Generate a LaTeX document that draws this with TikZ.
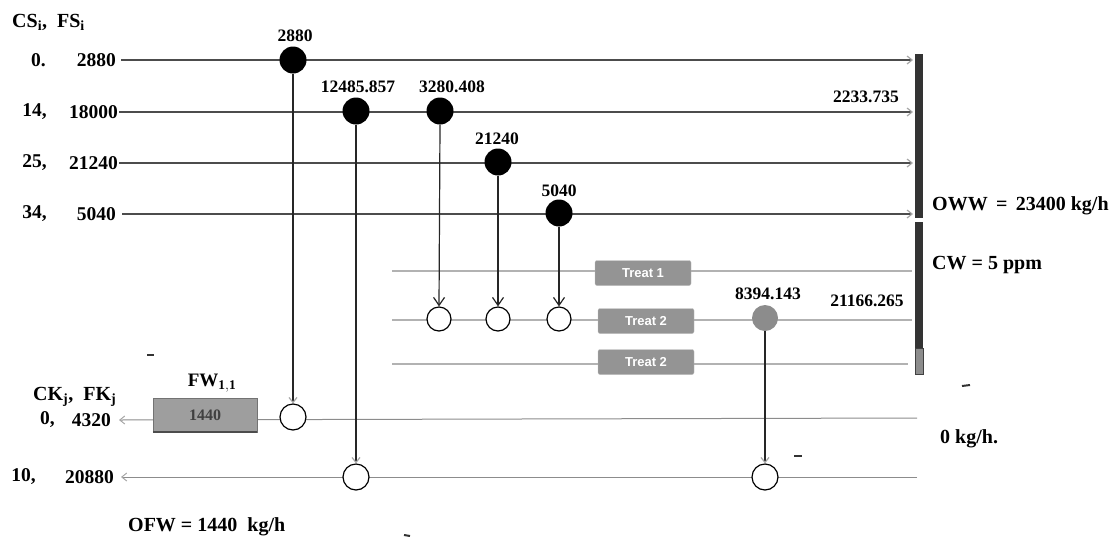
\documentclass[tikz,border=0pt]{standalone}
\usepackage{fontspec}
\setmainfont{Liberation Serif}
\newfontfamily\tsans{Liberation Sans}
\usetikzlibrary{arrows.meta}
\begin{document}
\begin{tikzpicture}[x=1pt,y=-1pt,
  lbl/.style={font=\bfseries\fontsize{19.5}{21}\selectfont, inner sep=0pt},
  toplbl/.style={font=\bfseries\fontsize{17.5}{19}\selectfont, inner sep=0pt},
  biglbl/.style={font=\bfseries\fontsize{20}{22}\selectfont, inner sep=0pt},
  srcline/.style={draw=black!70, line width=1.2pt},
  sinkline/.style={draw=black!45, line width=1pt},
  trline/.style={draw=black!30, line width=1.3pt},
  vert/.style={draw=black!85, line width=1.2pt},
  dot/.style={circle, fill=black, minimum size=27pt, inner sep=0pt},
  gdot/.style={circle, fill=black!45, minimum size=26pt, inner sep=0pt},
  opn/.style={circle, draw=black, line width=1.2pt, fill=white, minimum size=24pt, inner sep=0pt},
  treatbox/.style={rounded corners=2pt, fill=black!42, draw=black!25, minimum width=96pt, minimum height=25pt, inner sep=0pt, font=\tsans\bfseries\fontsize{13}{14}\selectfont, text=white},
  darr/.style={-{Straight Barb[length=8pt,width=11pt,line width=1.2pt]}},
  larr/.style={-{Straight Barb[length=5pt,width=8pt,color=black!35]}},
  artifact/.style={draw=black!80, line width=2pt}
]
\useasboundingbox (0,0) rectangle (1116,539);

% header labels
\node[biglbl, anchor=west] (hs) at (12,22) {CS$_{\mathbf i}$,\ \ FS$_{\mathbf i}$};
\node[biglbl, anchor=west] (hk) at (33,397) {CK$_{\mathbf j}$,\ \ FK$_{\mathbf j}$};

% source labels
\node[lbl, anchor=east] (c1) at (46,60) {0.};
\node[lbl, anchor=east] (c2) at (47,112) {14,};
\node[lbl, anchor=east] (c3) at (47,163) {25,};
\node[lbl, anchor=east] (c4) at (47,214) {34,};
\node[lbl, anchor=east] (f1) at (116,60) {2880};
\node[lbl, anchor=east] (f2) at (118,112) {18000};
\node[lbl, anchor=east] (f3) at (118,163) {21240};
\node[lbl, anchor=east] (f4) at (116,214) {5040};

% sink labels
\node[lbl, anchor=east] (k1) at (55,420) {0,};
\node[lbl, anchor=east] (k2) at (36,477) {10,};
\node[lbl, anchor=east] (g1) at (111,420) {4320};
\node[lbl, anchor=east] (g2) at (114,477) {20880};

% bar at right
\fill[black!80] (915,54) rectangle (923,218);
\fill[black!80] (915,222) rectangle (923,348);
\filldraw[fill=black!45, draw=black!75, line width=0.8pt] (915,348) rectangle (923,374);
\coordinate (e1) at (913,60);
\coordinate (e2) at (913,112);
\coordinate (e3) at (913,163);
\coordinate (e4) at (913,214);

% source lines
\draw[srcline, larr] (f1.east) ++(5,0) -- (e1);
\draw[srcline, larr] (f2.east) ++(1,0) -- (e2);
\draw[srcline, larr] (f3.east) ++(1,0) -- (e3);
\draw[srcline, larr] (f4.east) ++(6,0) -- (e4);

% treatment lines
\coordinate (t1s) at (392,271); \coordinate (t1e) at (912,271);
\coordinate (t2s) at (392,320); \coordinate (t2e) at (912,320);
\coordinate (t3s) at (392,364); \coordinate (t3e) at (908,364);
\draw[trline] (t1s) -- (t1e);
\draw[trline] (t2s) -- (t2e);
\draw[trline] (t3s) -- (t3e);
\node[treatbox] (tb1) at (643,273) {Treat 1};
\node[treatbox] (tb2) at (646,321) {Treat 2};
\node[treatbox] (tb3) at (646,362) {Treat 2};

% sink lines
\coordinate (s1e) at (917,418);
\coordinate (s2e) at (917,477);
\draw[sinkline, larr] (s1e) -- ([xshift=8pt]g1.east);
\draw[sinkline, larr] (s2e) -- ([xshift=7pt]g2.east);

% FW box
\node[rectangle, fill=black!38, draw=black!55, minimum width=104pt, minimum height=34pt, inner sep=0pt,
      font=\bfseries\fontsize{16}{18}\selectfont, text=black!75] (fw) at (205,415) {1440};
\draw[black!70, line width=2pt] (fw.south west) -- (fw.south east);
\node[biglbl, font=\bfseries\fontsize{19}{21}\selectfont] (fwl) at (212,383) {FW$_{\mathbf{1,1}}$};

% black dots
\node[dot] (d1) at (293,60) {};
\node[dot] (d2) at (356,111) {};
\node[dot] (d3) at (440,111) {};
\node[dot] (d4) at (498,162) {};
\node[dot] (d5) at (559,213) {};
\node[toplbl] (l1) at (295,36) {2880};
\node[toplbl] (l2) at (358,87) {12485.857};
\node[toplbl] (l3) at (452,87) {3280.408};
\node[toplbl] (l4) at (497,139) {21240};
\node[toplbl] (l5) at (559,191) {5040};
\node[toplbl] (l6) at (866,97) {2233.735};

% open circles
\node[opn] (o1) at (439,319) {};
\node[opn] (o2) at (498,319) {};
\node[opn] (o3) at (559,319) {};
\node[gdot] (gd) at (765,318) {};
\node[toplbl] (l7) at (768,294) {8394.143};
\node[toplbl] (l8) at (867,301) {21166.265};

\node[opn, minimum size=26pt] (p1) at (293,417) {};
\node[opn, minimum size=26pt] (p2) at (356,477) {};
\node[opn, minimum size=26pt] (p3) at (765,477) {};

% verticals
\draw[vert, darr] (d3.south) -- (o1.north);
\draw[vert, darr] (d4.south) -- (o2.north);
\draw[vert, darr] (d5.south) -- (o3.north);
\draw[vert, larr] (d1.south) -- (p1.north);
\draw[vert, larr] (d2.south) -- (p2.north);
\draw[vert, larr] (gd.south) -- (p3.north);

% right labels
\node[biglbl, anchor=west] (oww) at (932,206) {OWW \,=\, 23400 kg/h};
\node[biglbl, anchor=west] (cw) at (932,265) {CW = 5 ppm};
\node[biglbl, anchor=west] (zk) at (940,439) {0 kg/h.};
\node[biglbl, anchor=west] (ofw) at (128,527) {OFW = 1440\ \ kg/h};

% small marks
\draw[artifact] (147,355) -- (154,355);
\draw[artifact] (962,386) -- (970,385);
\draw[artifact] (794,456) -- (802,456);
\draw[artifact] (404,535) -- (410,536);
\end{tikzpicture}
\end{document}
